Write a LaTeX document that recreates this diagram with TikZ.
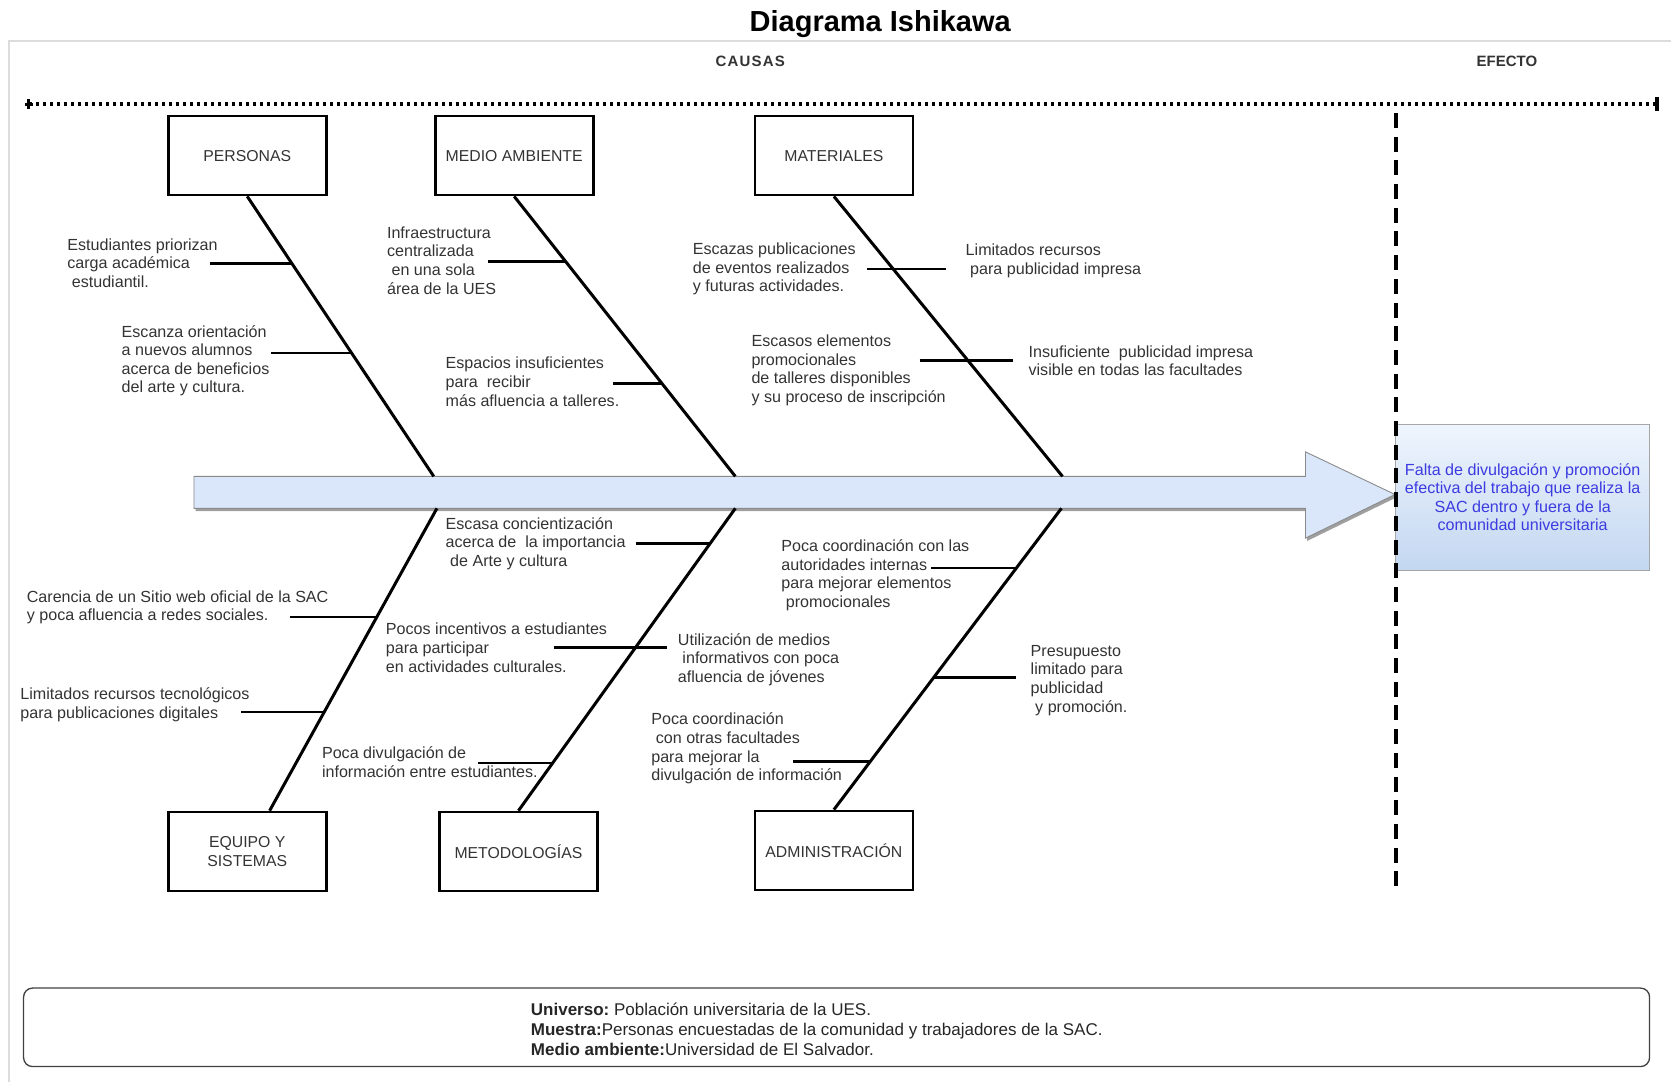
\documentclass[tikz,border=0pt]{standalone}
\usepackage{fontspec}
\setmainfont{Liberation Sans}
\usetikzlibrary{calc}
\definecolor{ink}{HTML}{333333}
\definecolor{spinefill}{HTML}{DAE7FA}
\definecolor{spineedge}{HTML}{8A8A8A}
\definecolor{efftop}{HTML}{EFF5FD}
\definecolor{effbot}{HTML}{C3D7F1}
\definecolor{efftext}{HTML}{3B3BE0}
\definecolor{framegray}{HTML}{DCDCDC}
\newcommand\padsp{\hspace*{0.28em}}

\begin{document}
\begin{tikzpicture}[x=1.0657pt,y=-1.0657pt,
  catbox/.style={draw=black, line width=2.6pt, minimum width=158pt, minimum height=79pt,
    inner sep=2pt, align=center, text=ink, font=\fontsize{15.8}{18.6}\selectfont},
  cause/.style={anchor=west, align=left, inner sep=0pt, text=ink,
    font=\fontsize{16.1}{18.65}\selectfont},
  bone/.style={line width=3pt},
  twig/.style={line width=2.6pt},
  head/.style={text=ink, font=\bfseries\fontsize{15}{18}\selectfont},
]
\useasboundingbox (0,0) rectangle (1568,1015.3);

% outer frame
\draw[framegray, line width=1.6pt] (8.4,1016) -- (8.4,38.2) -- (1569,38.2);

% title and headings
\node[font=\bfseries\fontsize{29}{34}\selectfont] (title) at (826,22.5) {Diagrama Ishikawa};
\node[head] (causas) at (704,58) {\addfontfeature{LetterSpace=8}CAUSAS};
\node[head] (efecto) at (1414,58) {EFECTO};

% dotted top rule with end marks
\coordinate (ruleL) at (27.2,97.6);
\coordinate (ruleR) at (1554.6,97.6);
\draw[line width=3.3pt, dash pattern=on 3.3pt off 3.7pt] (ruleL) -- (ruleR);
\draw[line width=3pt] ($(ruleL)+(0,-5)$) -- ($(ruleL)+(0,5)$);
\draw[line width=3pt] ($(ruleL)+(-4,0)$) -- ($(ruleL)+(4,0)$);
\draw[line width=3.6pt] ($(ruleR)+(0,-6.5)$) -- ($(ruleR)+(0,6.5)$);

% main spine arrow
\coordinate (tip) at (1309,464);
\begin{scope}[shift={(1.6,2.6)}]
  \fill[gray!75] (182,447) -- (1225,447) -- (1225,424) -- (1309,464) -- (1225,505) -- (1225,477) -- (182,477) -- cycle;
\end{scope}
\draw[spineedge, line width=0.9pt, fill=spinefill]
  (182,447) -- (1225,447) -- (1225,424) -- (tip) -- (1225,505) -- (1225,477) -- (182,477) -- cycle;

% effect box
\node[draw=gray!70, line width=1pt, top color=efftop, bottom color=effbot,
      minimum width=253.5pt, minimum height=146pt, inner sep=2pt, align=center,
      text=efftext, font=\fontsize{16.1}{18.65}\selectfont] (eff) at (1428.8,466.5)
  {Falta de divulgación y promoción\\efectiva del trabajo que realiza la\\SAC dentro y fuera de la\\comunidad universitaria};

% category boxes
\node[catbox] (per) at (232,146) {PERSONAS};
\node[catbox] (med) at (482.5,146) {MEDIO AMBIENTE};
\node[catbox] (mat) at (782.5,146) {MATERIALES};
\node[catbox] (equ) at (232,799) {EQUIPO Y\\SISTEMAS};
\node[catbox] (met) at (486.5,799) {METODOLOGÍAS};
\node[catbox] (adm) at (782.5,798) {ADMINISTRACIÓN};

% joints on the spine
\coordinate (perJ) at (407,447);
\coordinate (medJ) at (690,447);
\coordinate (matJ) at (997,447);
\coordinate (equJ) at (410,477);
\coordinate (metJ) at (690,477);
\coordinate (admJ) at (996,477);
\coordinate (equT) at ($(equ.north)+(21,0)$);

% bones
\draw[bone] (per.south) -- (perJ);
\draw[bone] (med.south) -- (medJ);
\draw[bone] (mat.south) -- (matJ);
\draw[bone] (equJ) -- (equT);
\draw[bone] (metJ) -- (met.north);
\draw[bone] (admJ) -- (adm.north);

% points where the sub-causes meet the bones
\coordinate (per1) at ($(per.south)!0.240!(perJ)$);
\coordinate (per2) at ($(per.south)!0.559!(perJ)$);
\coordinate (med1) at ($(med.south)!0.232!(medJ)$);
\coordinate (med2) at ($(med.south)!0.669!(medJ)$);
\coordinate (mat1) at ($(mat.south)!0.259!(matJ)$);
\coordinate (mat2) at ($(mat.south)!0.586!(matJ)$);
\coordinate (equ1) at ($(equJ)!0.359!(equT)$);
\coordinate (equ2) at ($(equJ)!0.673!(equT)$);
\coordinate (met1) at ($(metJ)!0.116!(met.north)$);
\coordinate (met2) at ($(metJ)!0.461!(met.north)$);
\coordinate (met3) at ($(metJ)!0.842!(met.north)$);
\coordinate (adm1) at ($(admJ)!0.198!(adm.north)$);
\coordinate (adm2) at ($(admJ)!0.562!(adm.north)$);
\coordinate (adm3) at ($(admJ)!0.841!(adm.north)$);

% sub-cause strokes
\draw[twig] (per1) -- ++(-77,0);
\draw[twig] (per2) -- ++(-76,0);
\draw[twig] (med1) -- ++(-73,0);
\draw[twig] (med2) -- ++(-46.5,0);
\draw[twig] ($(mat1)+(-24.3,0)$) -- ($(mat1)+(49.7,0)$);
\draw[twig] ($(mat2)+(-45.3,0)$) -- ($(mat2)+(42.7,0)$);
\draw[twig] (equ1) -- ++(-81.6,0);
\draw[twig] (equ2) -- ++(-78.4,0);
\draw[twig] (met1) -- ++(-69.4,0);
\draw[twig] ($(met2)+(-76.4,0)$) -- ($(met2)+(29.6,0)$);
\draw[twig] (met3) -- ++(-70.2,0);
\draw[twig] (adm1) -- ++(-80.2,0);
\draw[twig] (adm2) -- ++(77.7,0);
\draw[twig] (adm3) -- ++(-72.3,0);

% sub-cause texts
\node[cause] (tper1) at (63,246.7) {Estudiantes priorizan\\carga académica\\\padsp estudiantil.};
\node[cause] (tper2) at (114,338.5) {Escanza orientación\\a nuevos alumnos\\acerca de beneficios\\del arte y cultura.};
\node[cause] (tmed1) at (363,244.5) {Infraestructura\\centralizada\\\padsp en una sola\\área de la UES};
\node[cause] (tmed2) at (418,358.3) {Espacios insuficientes\\para\ \ recibir\\más afluencia a talleres.};
\node[cause] (tmat1) at (650,252.3) {Escazas publicaciones\\de eventos realizados\\y futuras actividades.};
\node[cause] (tmat1r) at (906,245) {Limitados recursos\\\padsp para publicidad impresa};
\node[cause] (tmat2) at (705,347.5) {Escasos elementos\\promocionales\\de talleres disponibles\\y su proceso de inscripción};
\node[cause] (tmat2r) at (965,338.5) {Insuficiente\ \ publicidad impresa\\visible en todas las facultades};
\node[cause] (tequ1) at (25,570) {Carencia de un Sitio web oficial de la SAC\\y poca afluencia a redes sociales.};
\node[cause] (tequ2) at (19,661) {Limitados recursos tecnológicos\\para publicaciones digitales};
\node[cause] (tmet1) at (418,510) {Escasa concientización\\acerca de\ \ la importancia\\\padsp de Arte y cultura};
\node[cause] (tmet2) at (362,607.7) {Pocos incentivos a estudiantes\\para participar\\en actividades culturales.};
\node[cause] (tmet2r) at (636,619) {Utilización de medios\\\padsp informativos con poca\\afluencia de jóvenes};
\node[cause] (tmet3) at (302,715) {Poca divulgación de\\información entre estudiantes.};
\node[cause] (tadm1) at (733,539.8) {Poca coordinación con las\\autoridades internas\\para mejorar elementos\\\padsp promocionales};
\node[cause] (tadm2) at (967,638.5) {Presupuesto\\limitado para\\publicidad\\\padsp y promoción.};
\node[cause] (tadm3) at (611,702.5) {Poca coordinación\\\padsp con otras facultades\\para mejorar la\\divulgación de información};

% separator between causes and effect
\coordinate (sepT) at (1310,106);
\coordinate (sepB) at (1310,838);
\draw[line width=3.4pt, dash pattern=on 15pt off 8.7pt] (sepT) -- (sepB);

% study scope box
\node[draw=black!75, line width=1.3pt, rounded corners=9pt, minimum width=1626pt,
      minimum height=78.5pt, inner sep=0pt] (scope) at (785,964) {};
\node[anchor=west, align=left, inner sep=0pt, text=black!85,
      font=\fontsize{17}{20.2}\selectfont] (scopetext) at (498,966)
  {\textbf{Universo:}\ Población universitaria de la UES.\\
   \textbf{Muestra:}Personas encuestadas de la comunidad y trabajadores de la SAC.\\
   \textbf{Medio ambiente:}Universidad de El Salvador.};
\end{tikzpicture}
\end{document}
